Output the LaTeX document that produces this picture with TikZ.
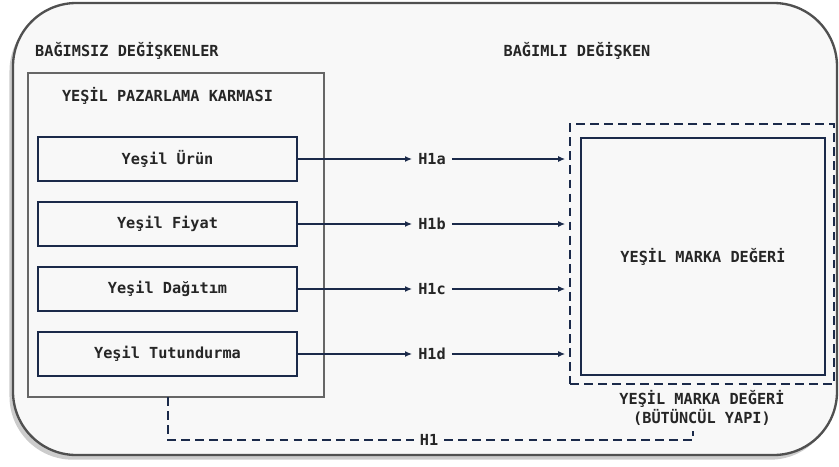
\documentclass[tikz,border=0pt]{standalone}
\usepackage{fontspec}
\setmonofont{DejaVu Sans Mono}
\usetikzlibrary{arrows.meta,shadows}
\definecolor{navy}{HTML}{1B2A4A}
\definecolor{framegray}{HTML}{505050}
\definecolor{paper}{HTML}{F8F8F8}
\begin{document}
\begin{tikzpicture}[x=0.03cm,y=-0.03cm,
    font=\fontsize{13}{15.5}\selectfont\ttfamily\bfseries,
    factor/.style={draw=navy,line width=1.8pt,minimum width=7.77cm,minimum height=1.32cm,inner sep=0pt,text=black!85},
    hyp/.style={inner sep=5pt,text=black!85},
    title/.style={inner sep=0pt,text=black!85},
    link/.style={draw=navy,line width=1.6pt,-{Latex[length=6pt,width=5pt]}},
    dashline/.style={draw=navy,line width=2.1pt,dash pattern=on 7.5pt off 4.5pt}]
  \useasboundingbox (0,0) rectangle (839,466);
  % frame
  \fill[white] (0,0) rectangle (839,466);
  \draw[framegray,line width=2pt,fill=paper,rounded corners=1.9cm,
        drop shadow={shadow xshift=-3pt,shadow yshift=-4pt,opacity=0.4}]
    (13,3) rectangle (837,455);
  % headings
  \node[title,anchor=west] (indep) at (35,51) {BAĞIMSIZ DEĞİŞKENLER};
  \node[title] (dep) at (577,51) {BAĞIMLI DEĞİŞKEN};
  % marketing mix
  \node[draw=black!60,line width=1.3pt,minimum width=8.88cm,minimum height=9.72cm] (mix) at (176,235) {};
  \node[title] (mixtitle) at (167.5,96) {YEŞİL PAZARLAMA KARMASI};
  \node[factor] (urun) at (167.5,159) {Yeşil Ürün};
  \node[factor] (fiyat) at (167.5,224) {Yeşil Fiyat};
  \node[factor] (dagitim) at (167.5,289) {Yeşil Dağıtım};
  \node[factor] (tutundurma) at (167.5,354) {Yeşil Tutundurma};
  % brand equity
  \node[dashline,minimum width=7.92cm,minimum height=7.8cm] (whole) at (702,254) {};
  \node[draw=navy,line width=1.8pt,minimum width=7.32cm,minimum height=7.11cm,text=black!85] (brand) at (703,256.5) {YEŞİL MARKA DEĞERİ};
  \node[title,align=center] (wholetitle) at (702,408) {YEŞİL MARKA DEĞERİ\\[1pt](BÜTÜNCÜL YAPI)};
  % hypotheses
  \node[hyp] (h1a) at (432,159) {H1a};
  \node[hyp] (h1b) at (432,224) {H1b};
  \node[hyp] (h1c) at (432,289) {H1c};
  \node[hyp] (h1d) at (432,354) {H1d};
  \draw[link] (urun) -- (h1a);
  \draw[link] (fiyat) -- (h1b);
  \draw[link] (dagitim) -- (h1c);
  \draw[link] (tutundurma) -- (h1d);
  \draw[link] (h1a.east) -- ([xshift=-3pt]h1a -| whole.west);
  \draw[link] (h1b.east) -- ([xshift=-3pt]h1b -| whole.west);
  \draw[link] (h1c.east) -- ([xshift=-3pt]h1c -| whole.west);
  \draw[link] (h1d.east) -- ([xshift=-3pt]h1d -| whole.west);
  % overall hypothesis
  \node[hyp] (h1) at (429,440) {H1};
  \coordinate (h1start) at (168,397);
  \coordinate (h1end) at (693,431);
  \draw[dashline] (h1start) |- (h1.west);
  \draw[dashline] (h1.east) -| (h1end);
\end{tikzpicture}
\end{document}
